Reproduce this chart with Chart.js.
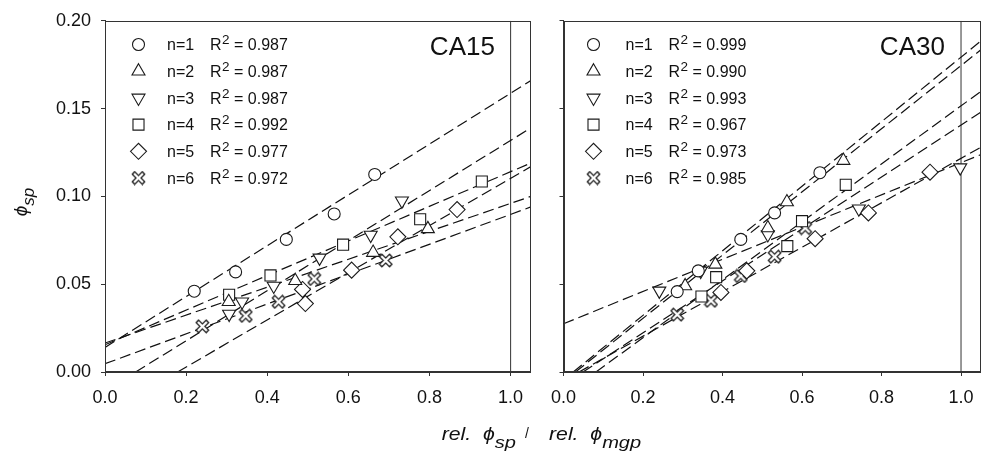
<!DOCTYPE html>
<html><head><meta charset="utf-8">
<script src="https://cdn.jsdelivr.net/npm/chart.js@4/dist/chart.umd.min.js"></script>
<style>
html,body{margin:0;padding:0;background:#fff;overflow:hidden;width:982px;height:458px;}
#wrap{position:relative;width:982px;height:458px;overflow:hidden;background:#fff;}
canvas{position:absolute;top:0;}
#c1{left:0px}
#c2{left:540px}
.t{position:absolute;font-family:"Liberation Sans",Arial,sans-serif;color:#111;white-space:nowrap;font-style:italic;line-height:18px;}
.t sub{vertical-align:baseline;position:relative;}
</style></head><body>
<div id="wrap">
<canvas id="c1" width="540" height="458"></canvas>
<canvas id="c2" width="450" height="458"></canvas>
<div class="t" style="right:466px;top:425px;font-size:18px;transform:scaleX(1.18);transform-origin:right center;">rel.&nbsp; ϕ<sub style="font-size:17px;top:8px">sp</sub></div>
<div class="t" style="left:525px;top:424px;font-size:14px;font-style:normal">/</div>
<div class="t" style="left:549px;top:425px;font-size:18px;transform:scaleX(1.18);transform-origin:left center;">rel.&nbsp; ϕ<sub style="font-size:17px;top:8px">mgp</sub></div>
<div class="t" style="left:-4px;top:190px;width:50px;height:24px;line-height:24px;text-align:center;font-size:19px;transform:rotate(-90deg);">ϕ<sub style="font-size:17px;top:7px">sp</sub></div>
</div>
<script>
// ---------- data ----------
const xTicks = [0.0, 0.2, 0.4, 0.6, 0.8, 1.0];
const yTicks = [0.00, 0.05, 0.10, 0.15, 0.20];
const seriesNames = ['n=1', 'n=2', 'n=3', 'n=4', 'n=5', 'n=6'];
const panelNames = ['CA15', 'CA30'];
const r2CA15 = ['0.987', '0.987', '0.987', '0.992', '0.977', '0.972'];
const r2CA30 = ['0.999', '0.990', '0.993', '0.967', '0.973', '0.985'];
const refX = 1.0;

// CA15 measured points (x, y) per series n=1..6
const ca15X = [
  [0.220, 0.322, 0.447, 0.565, 0.665],
  [0.305, 0.469, 0.661, 0.796],
  [0.306, 0.338, 0.416, 0.529, 0.655, 0.732],
  [0.306, 0.408, 0.587, 0.777, 0.929],
  [0.487, 0.494, 0.608, 0.722, 0.868],
  [0.240, 0.347, 0.428, 0.516, 0.692]
];
const ca15Y = [
  [0.046, 0.057, 0.0755, 0.090, 0.1125],
  [0.040, 0.052, 0.068, 0.0815],
  [0.033, 0.040, 0.049, 0.065, 0.078, 0.0975],
  [0.044, 0.055, 0.0725, 0.087, 0.1085],
  [0.047, 0.039, 0.058, 0.077, 0.0925],
  [0.026, 0.032, 0.040, 0.053, 0.0635]
];
// CA15 fitted lines (start, end)
const ca15LineX = [[0, 1.05], [0, 1.05], [0.0755, 1.05], [0, 1.05], [0.179, 1.05], [0, 1.05]];
const ca15LineY = [[0.014, 0.166], [0.0165, 0.100], [0, 0.139], [0.0155, 0.119], [0, 0.117], [0.0047, 0.094]];

// CA30 measured points
const ca30X = [
  [0.286, 0.339, 0.446, 0.531, 0.645],
  [0.306, 0.382, 0.514, 0.562, 0.704],
  [0.241, 0.345, 0.514, 0.743, 0.998],
  [0.347, 0.384, 0.563, 0.600, 0.710],
  [0.396, 0.461, 0.633, 0.767, 0.922],
  [0.286, 0.371, 0.446, 0.531, 0.608]
];
const ca30Y = [
  [0.0458, 0.0576, 0.0755, 0.0906, 0.1135],
  [0.049, 0.0613, 0.082, 0.0968, 0.1204],
  [0.0462, 0.0575, 0.0783, 0.093, 0.1164],
  [0.043, 0.054, 0.0717, 0.0859, 0.1066],
  [0.0453, 0.0576, 0.0759, 0.0906, 0.1138],
  [0.0327, 0.0406, 0.0547, 0.0657, 0.082]
];
const ca30LineX = [[0.0245, 1.05], [0.030, 1.05], [0, 1.05], [0.0816, 1.05], [0.039, 1.05], [0.049, 1.05]];
const ca30LineY = [[0, 0.1885], [0, 0.1835], [0.0275, 0.1238], [0, 0.1598], [0, 0.128], [0, 0.148]];

// ---------- styling ----------
const FONT = '"Liberation Sans", Arial, sans-serif';
Chart.defaults.font.family = FONT;
function makeX() {
  const c = document.createElement('canvas'); c.width = 15; c.height = 15;
  const g = c.getContext('2d');
  g.lineCap = 'butt';
  g.beginPath(); g.moveTo(2, 2); g.lineTo(13, 13); g.moveTo(13, 2); g.lineTo(2, 13);
  g.strokeStyle = '#1e1e1e'; g.lineWidth = 4.6; g.stroke();
  g.beginPath(); g.moveTo(3.0, 3.0); g.lineTo(12.0, 12.0); g.moveTo(12.0, 3.0); g.lineTo(3.0, 12.0);
  g.strokeStyle = '#fff'; g.lineWidth = 2.4; g.stroke();
  return c;
}
const xImg = makeX();
const markers = [
  { pointStyle: 'circle', radius: 6, rotation: 0 },
  { pointStyle: 'triangle', radius: 7.5, rotation: 0 },
  { pointStyle: 'triangle', radius: 7.5, rotation: 180 },
  { pointStyle: 'rect', radius: 7.8, rotation: 0 },
  { pointStyle: 'rectRot', radius: 8, rotation: 0 },
  { pointStyle: xImg, radius: 7, rotation: 0 }
];

function buildDatasets(xs, ys, lx, ly) {
  const ds = [];
  for (let i = 0; i < 6; i++) {
    ds.push({
      label: seriesNames[i],
      data: xs[i].map((x, j) => ({ x: x, y: ys[i][j] })),
      showLine: false,
      pointStyle: markers[i].pointStyle,
      pointRadius: markers[i].radius,
      pointRotation: markers[i].rotation,
      pointBorderColor: '#1a1a1a', pointBackgroundColor: '#fff', pointBorderWidth: 1.1,
      order: 0
    });
    ds.push({
      label: seriesNames[i] + ' fit',
      data: lx[i].map((x, j) => ({ x: x, y: ly[i][j] })),
      showLine: true, fill: false, tension: 0,
      borderColor: '#111', borderWidth: 1.2, borderDash: [11, 5],
      pointRadius: 0, order: 1
    });
  }
  ds.push({
    label: 'ref',
    data: [{ x: refX, y: yTicks[0] }, { x: refX, y: yTicks[yTicks.length - 1] }],
    showLine: true, borderColor: '#333', borderWidth: 1, pointRadius: 0, order: 2
  });
  return ds;
}

const decoPlugin = {
  id: 'deco',
  afterDatasetsDraw(chart, args, o) {
    const ctx = chart.ctx, a = chart.chartArea;
    ctx.save();
    ctx.strokeStyle = '#333'; ctx.lineWidth = 1;
    ctx.strokeRect(Math.round(a.left) + 0.5, Math.round(a.top) + 0.5, Math.round(a.right - a.left) - 1, Math.round(a.bottom - a.top) - 1);
    // panel label
    ctx.fillStyle = '#111';
    ctx.font = '26px ' + FONT;
    ctx.textAlign = 'right'; ctx.textBaseline = 'alphabetic';
    ctx.fillText(o.name, a.right - 36, a.top + 34);
    // legend
    ctx.textAlign = 'left';
    for (let i = 0; i < 6; i++) {
      const cy = a.top + 23.7 + i * 26.7;
      const m = markers[i];
      ctx.fillStyle = '#fff'; ctx.strokeStyle = '#1a1a1a'; ctx.lineWidth = 1.1;
      if (Chart.helpers && Chart.helpers.drawPoint) {
        Chart.helpers.drawPoint(ctx, { pointStyle: m.pointStyle, radius: m.radius, rotation: m.rotation, borderWidth: 1.1 }, a.left + o.symX, cy);
      }
      ctx.fillStyle = '#111';
      ctx.font = '16px ' + FONT;
      const base = cy + 5.8;
      ctx.fillText(seriesNames[i], a.left + 62, base);
      let x = a.left + 105;
      ctx.fillText('R', x, base);
      x += ctx.measureText('R').width + 0.5;
      ctx.font = '13.5px ' + FONT;
      ctx.fillText('2', x, base - 6);
      x += ctx.measureText('2').width;
      ctx.font = '16px ' + FONT;
      ctx.fillText(' = ' + o.r2[i], x, base);
    }
    ctx.restore();
  }
};

function makeOptions(yWidth, padRight, showYLabels, name, r2, symX) {
  const axisCommon = {
    type: 'linear',
    grid: { drawOnChartArea: false, drawTicks: true, tickLength: 4, color: '#333' },
    border: { display: true, color: '#333', width: 1 }
  };
  return {
    responsive: false, animation: false, events: [],
    layout: { padding: { left: 0, top: 18, right: padRight, bottom: 0 } },
    plugins: { legend: { display: false }, tooltip: { enabled: false }, deco: { name: name, r2: r2, symX: symX } },
    scales: {
      x: Object.assign({}, axisCommon, {
        min: 0, max: 1.05,
        afterBuildTicks: s => { s.ticks = xTicks.map(v => ({ value: v })); },
        afterFit: s => { s.height = 86; },
        ticks: { padding: 11, color: '#111', font: { size: 18 }, maxRotation: 0, autoSkip: false, callback: v => v.toFixed(1) }
      }),
      y: Object.assign({}, axisCommon, {
        min: yTicks[0], max: yTicks[yTicks.length - 1],
        afterBuildTicks: s => { s.ticks = yTicks.map(v => ({ value: v })); },
        afterFit: s => { s.width = yWidth; },
        ticks: { padding: 10, color: '#111', font: { size: 18 }, autoSkip: false, callback: v => showYLabels ? v.toFixed(2) : '' }
      })
    }
  };
}

new Chart(document.getElementById('c1'), {
  type: 'scatter',
  data: { datasets: buildDatasets(ca15X, ca15Y, ca15LineX, ca15LineY) },
  options: makeOptions(105, 7, true, panelNames[0], r2CA15, 33.5),
  plugins: [decoPlugin]
});
new Chart(document.getElementById('c2'), {
  type: 'scatter',
  data: { datasets: buildDatasets(ca30X, ca30Y, ca30LineX, ca30LineY) },
  options: makeOptions(17, 5, false, panelNames[1], r2CA30, 30),
  plugins: [decoPlugin]
});
</script>
</body></html>
